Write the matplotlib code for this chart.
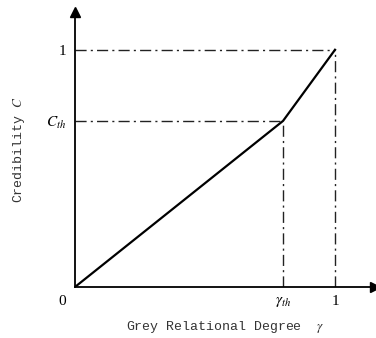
import matplotlib.pyplot as plt

plt.rcParams['mathtext.fontset'] = 'stix'

# breakpoints of the credibility curve
gamma = [0.0, 0.8, 1.0]
cred = [0.0, 0.70, 1.0]
gamma_th = gamma[1]
c_th = cred[1]

x_ticks = [gamma_th, 1.0]
x_tick_labels = [r'$\gamma_{th}$', '1']
y_ticks = [c_th, 1.0]
y_tick_labels = [r'$C_{th}$', '1']

fig = plt.figure(figsize=(3.76, 3.38), dpi=100)
ax = fig.add_axes([0.1995, 0.151, 0.798, 0.814])
ax.set_xlim(0, 1.154)
ax.set_ylim(0, 1.16)

for s in ['top', 'right']:
    ax.spines[s].set_visible(False)
for s in ['left', 'bottom']:
    ax.spines[s].set_linewidth(1.3)

# arrow heads on the axes
ax.plot(1, 0, '>k', ms=7, transform=ax.transAxes, clip_on=False)
ax.plot(0, 1, '^k', ms=7, transform=ax.transAxes, clip_on=False)

# guide lines
ls = dict(color='#222222', lw=1.0, ls='-.', dashes=(8, 3, 1.5, 3))
ax.plot([0, 1], [1, 1], **ls)
ax.plot([1, 1], [0, 1], **ls)
ax.plot([0, gamma_th], [c_th, c_th], **ls)
ax.plot([gamma_th, gamma_th], [0, c_th], **ls)

ax.plot(gamma, cred, color='black', lw=1.6)

ax.set_xticks(x_ticks)
ax.set_xticklabels(x_tick_labels, family='Liberation Serif', fontsize=11)
ax.set_yticks(y_ticks)
ax.set_yticklabels(y_tick_labels, family='Liberation Serif', fontsize=11)
ax.tick_params(length=0, pad=6)
ax.text(-0.035, -0.035, '0', ha='right', va='top', family='Liberation Serif', fontsize=11)

ax.set_xlabel(r'Grey Relational Degree  $\gamma$', family='Liberation Mono',
              fontsize=9.5, color='#333333', labelpad=7)
ax.set_ylabel(r'Credibility $C$', family='Liberation Mono', fontsize=9.5,
              color='#333333', labelpad=14)

fig.savefig('out.png', dpi=100)
